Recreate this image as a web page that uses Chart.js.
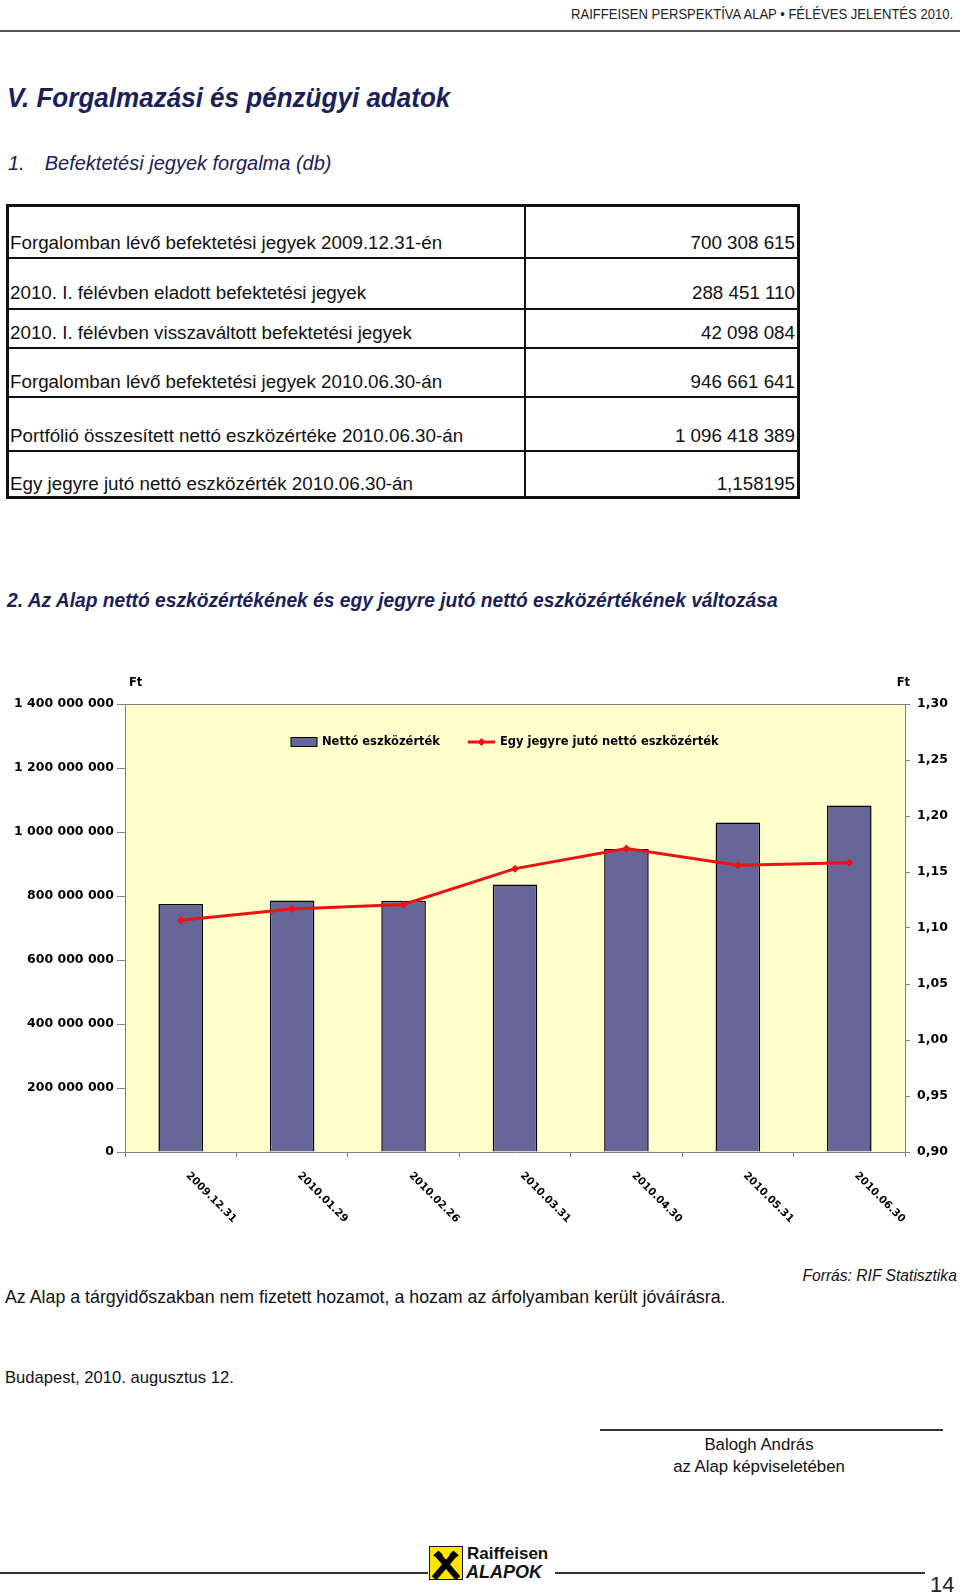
<!DOCTYPE html>
<html lang="hu">
<head>
<meta charset="utf-8">
<title>Forgalmazási és pénzügyi adatok</title>
<script src="https://cdn.jsdelivr.net/npm/chart.js@4.4.1/dist/chart.umd.min.js"></script>
<style>
  html, body { margin: 0; padding: 0; background: #fff; }
  body { width: 960px; height: 1593px; position: relative; overflow: hidden;
         font-family: "Liberation Sans", Arial, sans-serif; color: #111; }
  .t { position: absolute; white-space: nowrap; line-height: 1; }
  .t > span.sq { display: inline-block; transform-origin: left center; }
  .t.r > span.sq { transform-origin: right center; }
  .navy { color: #1b2058; font-weight: bold; font-style: italic; }
  .hline { position: absolute; background: #333; }
  #tbl { position: absolute; left: 6px; top: 204px; width: 794px; height: 295px;
         box-sizing: border-box; border: 3px solid #111; }
  .row { position: absolute; left: 0; width: 100%; font-size: 18.8px; line-height: 18px; }
  .row .k { position: absolute; left: 1px; }
  .row .v { position: absolute; right: 2px; }
  #chartBox { position: absolute; left: 0; top: 660px; width: 960px; height: 570px; }
</style>
</head>
<body>

<div class="t r" style="right:7px; top:6px; font-size:15px; color:#222;"><span class="sq" style="transform:scaleX(0.87);">RAIFFEISEN PERSPEKTÍVA ALAP • FÉLÉVES JELENTÉS 2010.</span></div>
<div class="hline" style="left:0; top:30px; width:960px; height:2px; background:#555;"></div>

<div class="t navy" style="left:7px; top:84px; font-size:28px;"><span class="sq" style="transform:scaleX(0.93);">V. Forgalmazási és pénzügyi adatok</span></div>
<div class="t navy" style="left:8px; top:153px; font-size:20px; font-weight:normal;">1.<span style="display:inline-block; width:20px;"></span>Befektetési jegyek forgalma (db)</div>

<div id="tbl">
  <div class="hline" style="left:515px; top:0; width:1.5px; height:289px; background:#111;"></div>
  <div class="hline" style="left:0; top:50px; width:788px; height:1.5px; background:#111;"></div>
  <div class="hline" style="left:0; top:101px; width:788px; height:1.5px; background:#111;"></div>
  <div class="hline" style="left:0; top:140px; width:788px; height:1.5px; background:#111;"></div>
  <div class="hline" style="left:0; top:189px; width:788px; height:1.5px; background:#111;"></div>
  <div class="hline" style="left:0; top:243px; width:788px; height:1.5px; background:#111;"></div>
  <div class="row" style="top:27px;"><span class="k">Forgalomban lévő befektetési jegyek 2009.12.31-én</span><span class="v">700 308 615</span></div>
  <div class="row" style="top:77px;"><span class="k">2010. I. félévben eladott befektetési jegyek</span><span class="v">288 451 110</span></div>
  <div class="row" style="top:117px;"><span class="k">2010. I. félévben visszaváltott befektetési jegyek</span><span class="v">42 098 084</span></div>
  <div class="row" style="top:166px;"><span class="k">Forgalomban lévő befektetési jegyek 2010.06.30-án</span><span class="v">946 661 641</span></div>
  <div class="row" style="top:220px;"><span class="k">Portfólió összesített nettó eszközértéke 2010.06.30-án</span><span class="v">1 096 418 389</span></div>
  <div class="row" style="top:268px;"><span class="k">Egy jegyre jutó nettó eszközérték 2010.06.30-án</span><span class="v">1,158195</span></div>
</div>

<div class="t navy" style="left:7px; top:589px; font-size:21px;"><span class="sq" style="transform:scaleX(0.915);">2. Az Alap nettó eszközértékének és egy jegyre jutó nettó eszközértékének változása</span></div>

<div id="chartBox"><canvas id="navChart" width="960" height="570"></canvas></div>

<div class="t r" style="right:3px; top:1267px; font-size:17px; font-style:italic;"><span class="sq" style="transform:scaleX(0.92);">Forrás: RIF Statisztika</span></div>
<div class="t" style="left:5px; top:1289px; font-size:17.8px;">Az Alap a tárgyidőszakban nem fizetett hozamot, a hozam az árfolyamban került jóváírásra.</div>
<div class="t" style="left:5px; top:1370px; font-size:16.6px;">Budapest, 2010. augusztus 12.</div>

<div class="hline" style="left:600px; top:1429px; width:343px; height:1.5px;"></div>
<div class="t" style="left:659px; width:200px; text-align:center; top:1437px; font-size:16.8px;">Balogh András</div>
<div class="t" style="left:659px; width:200px; text-align:center; top:1459px; font-size:16.8px;">az Alap képviseletében</div>

<div class="hline" style="left:0; top:1572px; width:428px; height:1.5px;"></div>
<div class="hline" style="left:555px; top:1572px; width:370px; height:1.5px;"></div>
<svg style="position:absolute; left:429px; top:1546px;" width="34" height="34" viewBox="0 0 34 34">
  <rect x="0.5" y="0.5" width="33" height="33" fill="#ffe500" stroke="#111" stroke-width="1"/>
  <path d="M7 30 L25 9 M27 30 L9 9" stroke="#000" stroke-width="6" stroke-linecap="square"/>
  <path d="M4 10 L10 5 L14 9 L9 11 Z M30 10 L24 5 L20 9 L25 11 Z" fill="#000"/>
</svg>
<div class="t" style="left:467px; top:1545px; font-size:17px; font-weight:bold;">Raiffeisen</div>
<div class="t" style="left:466px; top:1563px; font-size:18px; font-weight:bold; font-style:italic;">ALAPOK</div>
<div class="t" style="left:930px; top:1574px; font-size:22px; color:#222;">14</div>

<script>
// Reporting dates (x axis categories)
const dates = ['2009.12.31', '2010.01.29', '2010.02.26', '2010.03.31', '2010.04.30', '2010.05.31', '2010.06.30'];

// Net asset value of the fund (Ft) - bars, left axis
const netAssetValue = [775000000, 786000000, 785000000, 836000000, 947000000, 1030000000, 1083000000];

// Net asset value per unit (Ft) - line, right axis
const perUnitValue = [1.107, 1.117, 1.121, 1.153, 1.171, 1.156, 1.158195];

const seriesNames = ['Nettó eszközérték', 'Egy jegyre jutó nettó eszközérték'];
const axisUnit = 'Ft';

const BAR_COLOR = '#666699';
const LINE_COLOR = '#ee1111';
const PLOT_BG = '#ffffcc';
const AXIS_GRAY = '#808080';
const FONT = 'DejaVu Sans';

function spaced(v) {
    return Math.round(v).toString().replace(/\B(?=(\d{3})+(?!\d))/g, ' ');
}

// Plot background, frame, rotated date labels, unit labels and legend
const decorPlugin = {
    id: 'decor',
    beforeDraw(chart) {
        const a = chart.chartArea;
        const ctx = chart.ctx;
        ctx.save();
        ctx.fillStyle = PLOT_BG;
        ctx.fillRect(a.left, a.top, a.right - a.left, a.bottom - a.top);
        ctx.restore();
    },
    afterDraw(chart) {
        const a = chart.chartArea;
        const ctx = chart.ctx;
        ctx.save();

        // top edge of the plot frame
        ctx.strokeStyle = AXIS_GRAY;
        ctx.lineWidth = 1;
        ctx.beginPath();
        ctx.moveTo(a.left, a.top + 0.5);
        ctx.lineTo(a.right, a.top + 0.5);
        ctx.stroke();

        // date labels, rotated 45 degrees downwards
        ctx.fillStyle = '#000';
        ctx.font = 'bold 10.5px "' + FONT + '"';
        ctx.textAlign = 'left';
        ctx.textBaseline = 'middle';
        const xs = chart.scales.x;
        dates.forEach((d, i) => {
            const px = xs.getPixelForValue(i);
            ctx.save();
            ctx.translate(px + 7, a.bottom + 22);
            ctx.rotate(Math.PI / 4);
            ctx.fillText(d, 0, 0);
            ctx.restore();
        });

        // unit labels above both axes
        ctx.font = 'bold 11.5px "' + FONT + '"';
        ctx.textAlign = 'left';
        ctx.fillText(axisUnit, a.left + 4, a.top - 21);
        ctx.textAlign = 'right';
        ctx.fillText(axisUnit, a.right + 5, a.top - 21);

        // legend inside the plot
        const ly = a.top + 38;
        const bx = a.left + 166;
        ctx.fillStyle = BAR_COLOR;
        ctx.fillRect(bx, ly - 4.5, 26, 9);
        ctx.strokeStyle = '#000';
        ctx.lineWidth = 1;
        ctx.strokeRect(bx, ly - 4.5, 26, 9);
        ctx.fillStyle = '#000';
        ctx.font = 'bold 11.5px "' + FONT + '"';
        ctx.textAlign = 'left';
        ctx.fillText(seriesNames[0], bx + 31, ly);

        const lx = a.left + 343;
        ctx.strokeStyle = LINE_COLOR;
        ctx.lineWidth = 3;
        ctx.beginPath();
        ctx.moveTo(lx, ly);
        ctx.lineTo(lx + 27, ly);
        ctx.stroke();
        ctx.fillStyle = LINE_COLOR;
        ctx.beginPath();
        ctx.moveTo(lx + 13.5, ly - 4);
        ctx.lineTo(lx + 17.5, ly);
        ctx.lineTo(lx + 13.5, ly + 4);
        ctx.lineTo(lx + 9.5, ly);
        ctx.closePath();
        ctx.fill();
        ctx.fillStyle = '#000';
        ctx.fillText(seriesNames[1], lx + 32, ly);

        ctx.restore();
    }
};

const ctx = document.getElementById('navChart').getContext('2d');
const navChart = new Chart(ctx, {
    data: {
        labels: dates,
        datasets: [
            {
                type: 'line',
                label: seriesNames[1],
                data: perUnitValue,
                yAxisID: 'y1',
                borderColor: LINE_COLOR,
                backgroundColor: LINE_COLOR,
                borderWidth: 3,
                tension: 0,
                pointStyle: 'rectRot',
                pointRadius: 4,
                pointBorderWidth: 0,
                order: 0
            },
            {
                type: 'bar',
                label: seriesNames[0],
                data: netAssetValue,
                yAxisID: 'y',
                backgroundColor: BAR_COLOR,
                borderColor: '#000',
                borderWidth: 1.5,
                categoryPercentage: 1,
                barPercentage: 0.4,
                order: 1
            }
        ]
    },
    options: {
        responsive: false,
        animation: false,
        layout: { padding: { top: 44, left: 0, right: 0, bottom: 0 } },
        plugins: {
            legend: { display: false },
            tooltip: { enabled: false }
        },
        scales: {
            x: {
                offset: true,
                ticks: { display: false },
                grid: { drawOnChartArea: false, offset: true, tickLength: 5, color: AXIS_GRAY },
                border: { color: AXIS_GRAY },
                afterFit(scale) { scale.height = 78; }
            },
            y: {
                position: 'left',
                min: 0,
                max: 1400000000,
                ticks: {
                    stepSize: 200000000,
                    callback: (v) => spaced(v),
                    color: '#000',
                    padding: 3,
                    font: { family: FONT, size: 12.5, weight: 'bold' }
                },
                grid: { drawOnChartArea: false, tickLength: 8, color: AXIS_GRAY },
                border: { color: AXIS_GRAY },
                afterFit(scale) { scale.width = 125; }
            },
            y1: {
                position: 'right',
                min: 0.9,
                max: 1.3,
                ticks: {
                    stepSize: 0.05,
                    callback: (v) => v.toFixed(2).replace('.', ','),
                    color: '#000',
                    padding: 7,
                    font: { family: FONT, size: 12.5, weight: 'bold' }
                },
                grid: { drawOnChartArea: false, tickLength: 5, color: AXIS_GRAY },
                border: { color: AXIS_GRAY },
                afterFit(scale) { scale.width = 55; }
            }
        }
    },
    plugins: [decorPlugin]
});
</script>
</body>
</html>
